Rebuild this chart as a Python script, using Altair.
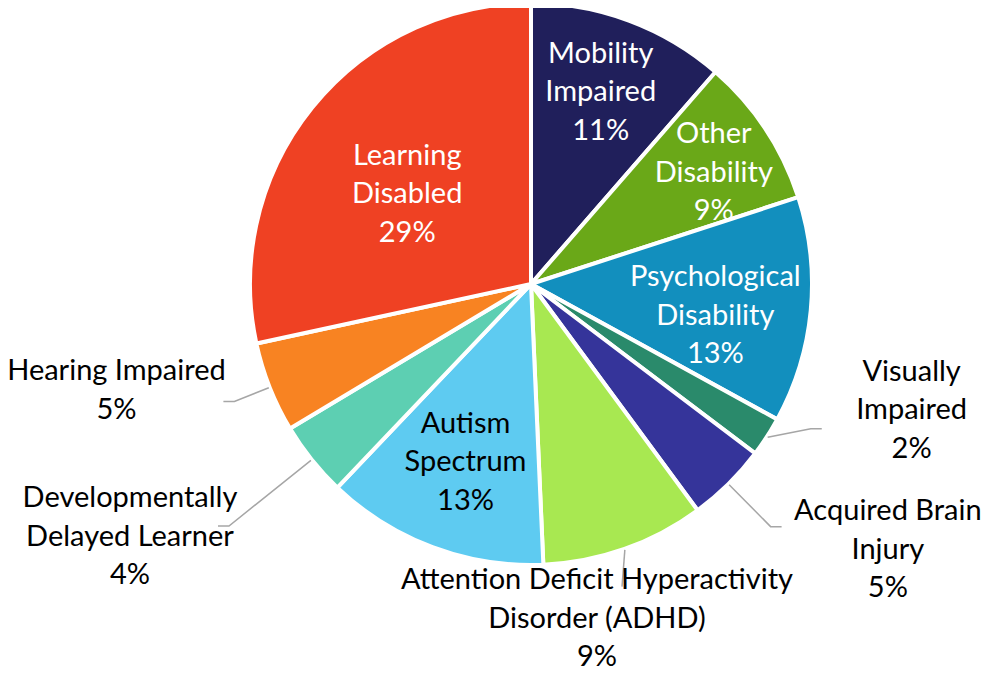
import math
import altair as alt
import pandas as pd

# ---- data ----
categories = [
    "Mobility Impaired", "Other Disability", "Psychological Disability",
    "Visually Impaired", "Acquired Brain Injury",
    "Attention Deficit Hyperactivity Disorder (ADHD)", "Autism Spectrum",
    "Developmentally Delayed Learner", "Hearing Impaired", "Learning Disabled",
]
display_names = [
    "Mobility\nImpaired", "Other\nDisability", "Psychological\nDisability",
    "Visually\nImpaired", "Acquired Brain\nInjury",
    "Attention Deficit Hyperactivity\nDisorder (ADHD)", "Autism\nSpectrum",
    "Developmentally\nDelayed Learner", "Hearing Impaired", "Learning\nDisabled",
]
shares = [11.4, 8.6, 13.0, 2.3, 4.6, 9.4, 12.8, 4.3, 5.2, 28.4]
pct_labels = ["11%", "9%", "13%", "2%", "5%", "9%", "13%", "4%", "5%", "29%"]

# ---- styling ----
slice_colors = ["#201F5B", "#6AA818", "#128FBE", "#2A8A6B", "#35349A",
                "#A8E851", "#5ECBF1", "#5DCFB2", "#F88322", "#EF4123"]
text_colors = ["white", "white", "white", "black", "black",
               "black", "black", "black", "black", "white"]
label_radius = [204, 214, 187, 401, 445, 341, 190, 474, 428, 153]
label_nudge = [-0.15, 0.6, 1.2, -4.05, -2.41, 2.3, -0.1, 1.8, 2.0, -0.8]
# leader lines: (elbow radius, elbow angle nudge, horizontal tail) or None
leaders = [None, None, None, (315, -1.55, 11), (341, 0, 11), (316, 0.75, 0),
           None, (387, 0, -11), (319, 0, -11), None]

PAD_TOP = 10
CX, CY = 523, 266
R = 281
FONT = "Lato"
FS = 29
LH = 38.5

# ---- tables ----
cum = []
s = 0.0
for v in shares:
    cum.append(s)
    s += v
mid = [c + v / 2 for c, v in zip(cum, shares)]

slices = pd.DataFrame({
    "idx": list(range(len(categories))),
    "category": categories,
    "share": shares,
    "color": slice_colors,
})

label_text = [f"{n}\n{p}" for n, p in zip(display_names, pct_labels)]
labels = pd.DataFrame({
    "category": categories,
    "label": label_text,
    "n_lines": [t.count("\n") + 1 for t in label_text],
    "label_pos": [m + n for m, n in zip(mid, label_nudge)],
    "label_r": label_radius,
    "text_color": text_colors,
})


def polar(pct, r):
    a = pct / 100 * 2 * math.pi
    return CX + r * math.sin(a), CY - r * math.cos(a)


rows = []
for i, ld in enumerate(leaders):
    if ld is None:
        continue
    er, en, tail = ld
    x0, y0 = polar(mid[i], 282)
    x1, y1 = polar(mid[i] + en, er)
    pts = [(x0, y0), (x1, y1)]
    if tail:
        pts.append((x1 + tail, y1))
    for k, (px, py) in enumerate(pts):
        rows.append({"category": categories[i], "k": k, "px": px, "py": py})
lines = pd.DataFrame(rows)

theta_scale = alt.Scale(domain=[0, 100])

pie = alt.Chart(slices).mark_arc(radius=R, stroke="white", strokeWidth=4).encode(
    theta=alt.Theta("share:Q", stack=True, scale=theta_scale),
    color=alt.Color("color:N", scale=None),
    order=alt.Order("idx:Q"),
    x=alt.value(CX),
    y=alt.value(CY),
)

leader = alt.Chart(lines).mark_line(color="#A6A6A6", strokeWidth=1.5).encode(
    x=alt.X("px:Q", scale=None, axis=None),
    y=alt.Y("py:Q", scale=None, axis=None),
    detail="category:N",
    order=alt.Order("k:Q"),
)

text_layers = []
for n in sorted(labels["n_lines"].unique()):
    text_layers.append(
        alt.Chart(labels).transform_filter(f"datum.n_lines == {int(n)}").mark_text(
            font=FONT, fontSize=FS, lineBreak="\n", lineHeight=LH,
            align="center", baseline="middle", dy=-(int(n) - 1) * LH / 2,
        ).encode(
            theta=alt.Theta("label_pos:Q", scale=theta_scale),
            radius=alt.Radius("label_r:Q", scale=None),
            text="label:N",
            color=alt.Color("text_color:N", scale=None),
            x=alt.value(CX),
            y=alt.value(CY),
        )
    )

chart = alt.layer(pie, leader, *text_layers).properties(
    width=975, height=659,
    padding={"left": 0, "top": PAD_TOP, "right": 0, "bottom": 0},
    autosize=alt.AutoSizeParams(type="none"),
).configure_view(stroke=None)

chart.save("out.html", embed_options={"renderer": "svg", "actions": False})
